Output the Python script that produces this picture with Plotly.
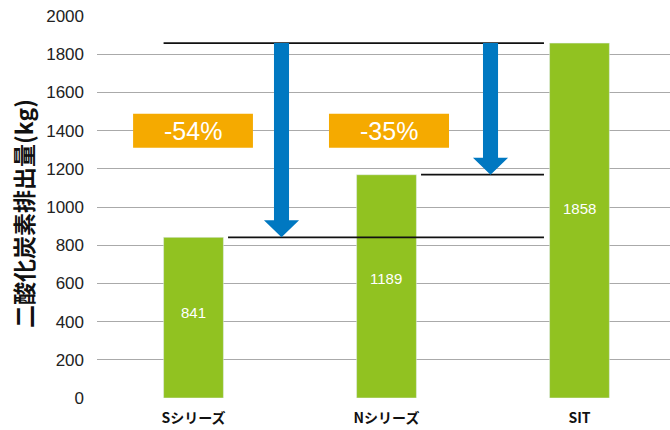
import plotly.graph_objects as go

categories = ["Sシリーズ", "Nシリーズ", "SIT"]
bar_heights = [841, 1169, 1858]
bar_labels = ["841", "1189", "1858"]
reduction_labels = ["-54%", "-35%"]
y_ticks = list(range(0, 2001, 200))

GREEN = "#91c221"
BLUE = "#0078c1"
ORANGE = "#f5aa00"

W, H = 670, 430
L, R, T, B = 97, 0, 16, 31.5
x_range = [-0.5, 2.469]

fig = go.Figure()
fig.add_trace(go.Bar(
    x=[0, 1, 2], y=bar_heights, marker_color=GREEN, width=0.31,
    hoverinfo="skip",
))

s, n, t = bar_heights
hw = 0.155
shapes = []
annotations = []

# value labels, slightly above the bar middle
for i, (h, lab) in enumerate(zip(bar_heights, bar_labels)):
    annotations.append(dict(x=i, y=h * 0.535, xref="x", yref="y", text=lab, showarrow=False,
                            font=dict(color="white", size=15, family="Liberation Sans")))

line_style = dict(color="#111111", width=1.8)
shapes.append(dict(type="line", xref="x", yref="y", x0=-hw, x1=1.816, y0=t, y1=t, line=line_style))
shapes.append(dict(type="line", xref="x", yref="y", x0=0.179, x1=1.816, y0=s, y1=s, line=line_style))
shapes.append(dict(type="line", xref="x", yref="y", x0=1.179, x1=1.816, y0=n, y1=n, line=line_style))


def arrow(cx, ytop, ytip):
    sw, hw2, hl = 0.039, 0.091, 89
    yh = ytip + hl
    p = (f"M {cx-sw},{ytop} L {cx+sw},{ytop} L {cx+sw},{yh} L {cx+hw2},{yh} "
         f"L {cx},{ytip} L {cx-hw2},{yh} L {cx-sw},{yh} Z")
    return dict(type="path", xref="x", yref="y", path=p, fillcolor=BLUE, line=dict(width=0))


shapes.append(arrow(0.456, t, s))
shapes.append(arrow(1.539, t, n))

box_y0, box_y1 = 1310, 1488
boxes = [(-0.313, 0.308), (0.702, 1.324)]
for (x0, x1), lab in zip(boxes, reduction_labels):
    shapes.append(dict(type="rect", xref="x", yref="y", x0=x0, x1=x1, y0=box_y0, y1=box_y1,
                       fillcolor=ORANGE, line=dict(width=0), layer="above"))
    annotations.append(dict(x=(x0 + x1) / 2, y=(box_y0 + box_y1) / 2, xref="x", yref="y",
                            text=lab, showarrow=False,
                            font=dict(color="white", size=25, family="Liberation Sans")))

annotations.append(dict(xref="paper", yref="paper", x=0, y=0.482, xshift=-74,
                        xanchor="center", yanchor="middle", textangle=-90,
                        text="二酸化炭素排出量(kg)", showarrow=False,
                        font=dict(size=23, color="#111111", family="Noto Sans CJK JP", weight="bold")))

fig.update_layout(
    width=W, height=H, margin=dict(l=L, r=R, t=T, b=B),
    paper_bgcolor="white", plot_bgcolor="white", showlegend=False,
    shapes=shapes, annotations=annotations,
    xaxis=dict(range=x_range, tickmode="array", tickvals=[0, 1, 2], ticktext=categories,
               showgrid=False, zeroline=False, showline=False, ticks="", ticklabelstandoff=10,
               tickfont=dict(size=14, color="#111111", family="Noto Sans CJK JP", weight="bold")),
    yaxis=dict(range=[0, 2000], tickmode="array", tickvals=y_ticks,
               showgrid=True, gridcolor="#aaaaaa", gridwidth=1.3, zeroline=False,
               showline=False, ticks="", ticklabelstandoff=12,
               tickfont=dict(size=17, color="#222222", family="Liberation Sans")),
    font=dict(family="Liberation Sans"),
)

fig.write_html("out.html", config={"displayModeBar": False},
               post_script="document.body.style.margin='0';")
